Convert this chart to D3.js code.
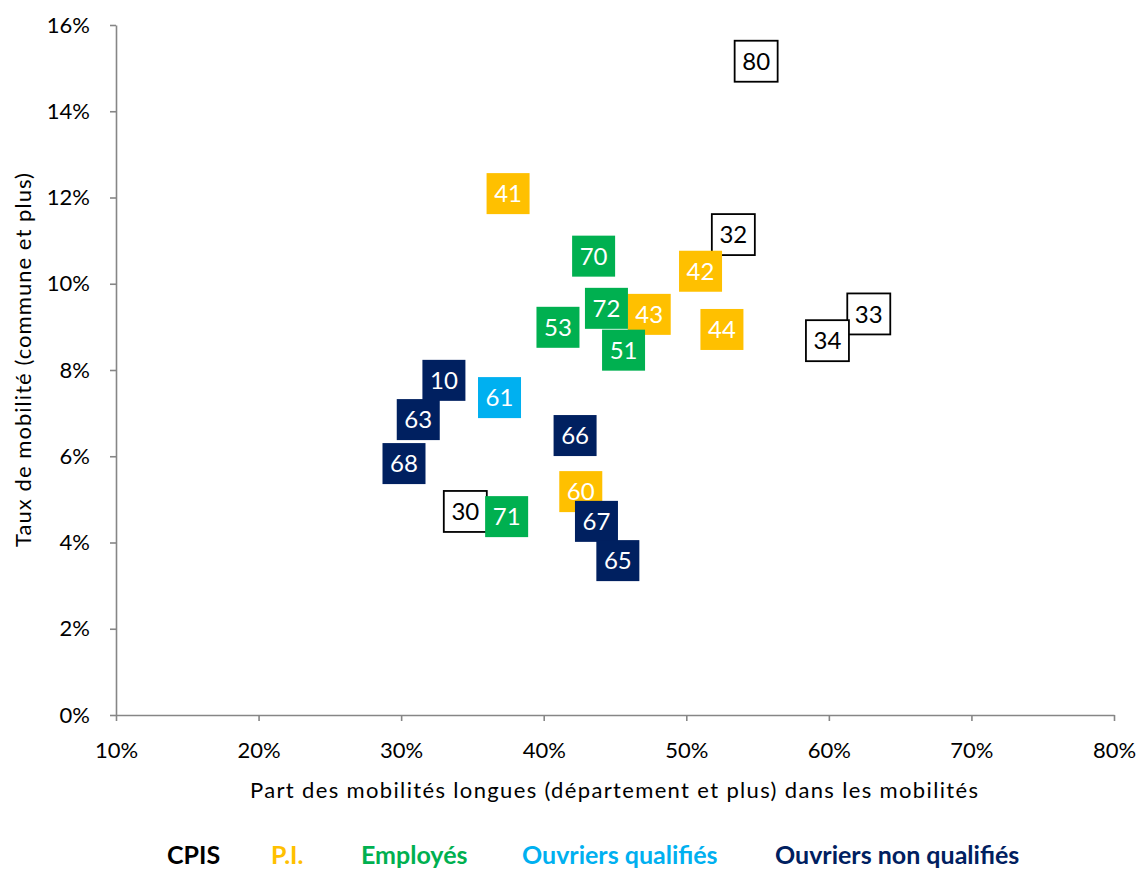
<!DOCTYPE html>
<html>
<head>
<meta charset="utf-8">
<script src="https://cdn.jsdelivr.net/npm/d3@7"></script>
<style>
  body { margin: 0; background: #fff; }
  svg { display: block; font-family: Lato, "Liberation Sans", sans-serif; }
</style>
</head>
<body>
<svg id="chart" width="1141" height="872"></svg>
<script>
// groups (legend order)
const groupNames = ['CPIS', 'P.I.', 'Employés', 'Ouvriers qualifiés', 'Ouvriers non qualifiés'];
const groupColors = ['#000000', '#ffc000', '#00b050', '#00b0f0', '#002060'];

// codes and values per group: x = part des mobilités longues, y = taux de mobilité (%)
const cpisCodes = ['80', '32', '33', '34', '30'];
const cpisX = [54.9, 53.3, 62.8, 59.9, 34.5];
const cpisY = [15.16, 11.14, 9.30, 8.68, 4.72];

const piCodes = ['41', '42', '43', '44', '60'];
const piX = [37.5, 51.0, 47.4, 52.5, 42.6];
const piY = [12.09, 10.29, 9.29, 8.94, 5.18];

const empCodes = ['70', '72', '53', '51', '71'];
const empX = [43.5, 44.4, 41.0, 45.6, 37.4];
const empY = [10.64, 9.43, 8.99, 8.46, 4.60];

const oqCodes = ['61'];
const oqX = [36.9];
const oqY = [7.36];

const onqCodes = ['10', '63', '68', '66', '67', '65'];
const onqX = [33.0, 31.2, 30.2, 42.2, 43.7, 45.2];
const onqY = [7.76, 6.85, 5.83, 6.48, 4.49, 3.58];

const xTicks = [10, 20, 30, 40, 50, 60, 70, 80];
const yTicks = [0, 2, 4, 6, 8, 10, 12, 14, 16];

const svg = d3.select('#chart');
const axisColor = '#868686';

const x = d3.scaleLinear().domain([10, 80]).range([116, 1114]);
const y = d3.scaleLinear().domain([0, 16]).range([715, 25]);

const groups = [
  { codes: cpisCodes, xs: cpisX, ys: cpisY },
  { codes: piCodes, xs: piX, ys: piY },
  { codes: empCodes, xs: empX, ys: empY },
  { codes: oqCodes, xs: oqX, ys: oqY },
  { codes: onqCodes, xs: onqX, ys: onqY },
];

const points = groups.flatMap((g, gi) =>
  g.codes.map((code, i) => ({ code, x: g.xs[i], y: g.ys[i], group: gi })),
);

// axes
const yAxis = svg
  .append('g')
  .attr('transform', `translate(${x(10)},0)`)
  .call(
    d3.axisLeft(y)
      .tickValues(yTicks)
      .tickFormat((d) => d + '%')
      .tickSize(6)
      .tickSizeOuter(0)
      .tickPadding(20),
  );

const xAxis = svg
  .append('g')
  .attr('transform', `translate(0,${y(0)})`)
  .call(
    d3.axisBottom(x)
      .tickValues(xTicks)
      .tickFormat((d) => d + '%')
      .tickSize(6)
      .tickSizeOuter(0)
      .tickPadding(21),
  );

[xAxis, yAxis].forEach((ax) => {
  ax.selectAll('path, line').attr('stroke', axisColor).attr('stroke-width', 1.6);
  ax.selectAll('text')
    .attr('fill', '#000')
    .style('font-size', '22px')
    .style('font-family', 'Lato, sans-serif');
});

// axis titles
svg
  .append('text')
  .attr('x', 614)
  .attr('y', 798)
  .attr('text-anchor', 'middle')
  .attr('textLength', 728)
  .style('font-size', '22px')
  .text('Part des mobilités longues (département et plus) dans les mobilités');

svg
  .append('text')
  .attr('transform', 'translate(31,360) rotate(-90)')
  .attr('text-anchor', 'middle')
  .attr('textLength', 374)
  .style('font-size', '22px')
  .text('Taux de mobilité (commune et plus)');

// labels as boxes centered on each point
const boxW = 43;
const boxH = 41;

const labels = svg
  .append('g')
  .selectAll('g')
  .data(points)
  .join('g')
  .attr('transform', (d) => `translate(${x(d.x)},${y(d.y)})`);

labels
  .append('rect')
  .attr('x', -boxW / 2)
  .attr('y', -boxH / 2)
  .attr('width', boxW)
  .attr('height', boxH)
  .attr('fill', (d) => (d.group === 0 ? '#fff' : groupColors[d.group]))
  .attr('stroke', (d) => (d.group === 0 ? '#000' : 'none'))
  .attr('stroke-width', 1.8);

labels
  .append('text')
  .attr('text-anchor', 'middle')
  .attr('dy', '0.36em')
  .attr('fill', (d) => (d.group === 0 ? '#000' : '#fff'))
  .style('font-size', '24px')
  .text((d) => d.code);

// legend
const legendX = [167, 271, 361, 522, 775];
svg
  .append('g')
  .selectAll('text')
  .data(groupNames)
  .join('text')
  .attr('x', (d, i) => legendX[i])
  .attr('y', 864)
  .attr('fill', (d, i) => groupColors[i])
  .style('font-size', '25px')
  .style('font-weight', 'bold')
  .text((d) => d);
</script>
</body>
</html>
